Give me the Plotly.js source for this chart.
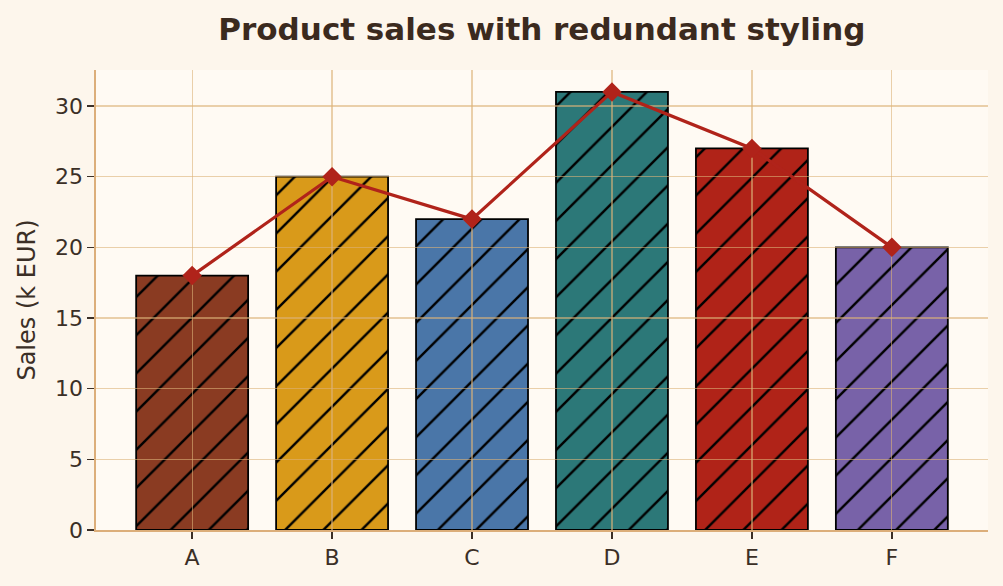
<!DOCTYPE html>
<html>
<head>
<meta charset="utf-8">
<script src="https://cdn.plot.ly/plotly-3.0.1.min.js"></script>
<style>html,body{margin:0;padding:0;background:#fdf6ec;}#chart{width:1003px;height:586px;}</style>
</head>
<body>
<div id="chart"></div>
<script>
const categories = ["A", "B", "C", "D", "E", "F"];
const sales = [18, 25, 22, 31, 27, 20];
const barColors = ["#8a3b22", "#d99a1a", "#4a76a8", "#2c7878", "#b02318", "#7862a8"];
const yTicks = [0, 5, 10, 15, 20, 25, 30];

const font = "DejaVu Sans, sans-serif";
const textColor = "#3b2f26";
const gridColor = "rgba(220,178,120,0.6)";
const xRange = [-0.687, 5.687];
const yRange = [0, 32.55];

const bars = {
  type: "bar",
  x: categories,
  y: sales,
  width: 0.8,
  xaxis: "x",
  yaxis: "y",
  marker: {
    color: "#000000",
    line: {color: "#000000", width: 1.8},
    pattern: {shape: "/", fillmode: "replace", bgcolor: barColors, fgcolor: "#000000", fgopacity: 1, size: 27, solidity: 0.09}
  },
  hoverinfo: "x+y",
  showlegend: false
};

// line lives on a second, coincident subplot so its grid is drawn over the bars but under the line
const line = {
  type: "scatter",
  mode: "lines+markers",
  x: categories,
  y: sales,
  xaxis: "x2",
  yaxis: "y2",
  line: {color: "#b0231a", width: 3.2},
  marker: {symbol: "diamond", size: 15, color: "#b0231a"},
  showlegend: false
};

const layout = {
  width: 1003,
  height: 586,
  paper_bgcolor: "#fdf6ec",
  plot_bgcolor: "rgba(0,0,0,0)",
  margin: {l: 96, r: 15, t: 70, b: 56},
  font: {family: font, color: textColor, size: 23},
  title: {
    text: "<b>Product sales with redundant styling</b>",
    font: {family: font, size: 31, color: "#3b2a1e"},
    x: 0.5403, xanchor: "center", y: 0.951, yanchor: "middle"
  },
  shapes: [
    {type: "rect", layer: "below", xref: "paper", yref: "paper", x0: 0, x1: 1, y0: 0, y1: 1,
     fillcolor: "#fffaf3", line: {width: 0}}
  ],
  xaxis: {
    type: "category",
    categoryarray: categories,
    range: xRange,
    domain: [0, 1],
    anchor: "y",
    showgrid: false,
    showline: true,
    linecolor: "#dcae7a",
    linewidth: 1.6,
    ticks: "outside",
    ticklen: 7,
    tickwidth: 1.5,
    tickcolor: textColor,
    tickfont: {family: font, size: 22, color: textColor},
    zeroline: false,
    fixedrange: true
  },
  yaxis: {
    range: yRange,
    domain: [0, 1],
    anchor: "x",
    tickvals: yTicks,
    ticktext: yTicks.map(String),
    showgrid: false,
    showline: true,
    linecolor: "#dcae7a",
    linewidth: 1.6,
    ticks: "outside",
    ticklen: 7,
    tickwidth: 1.5,
    tickcolor: textColor,
    tickfont: {family: font, size: 22, color: textColor},
    title: {text: "Sales (k EUR)", font: {family: font, size: 24, color: textColor}, standoff: 12},
    zeroline: false,
    fixedrange: true
  },
  xaxis2: {
    type: "category",
    categoryarray: categories,
    range: xRange,
    domain: [0, 1],
    anchor: "y2",
    showgrid: true,
    gridcolor: gridColor,
    gridwidth: 1.2,
    showline: false,
    ticks: "",
    showticklabels: false,
    zeroline: false,
    fixedrange: true
  },
  yaxis2: {
    range: yRange,
    domain: [0, 1],
    anchor: "x2",
    tickvals: yTicks.filter(v => v > 0),
    showgrid: true,
    gridcolor: gridColor,
    gridwidth: 1.2,
    showline: false,
    ticks: "",
    showticklabels: false,
    zeroline: false,
    fixedrange: true
  },
  bargap: 0.2
};

Plotly.newPlot("chart", [bars, line], layout, {displayModeBar: false, staticPlot: true});
</script>
</body>
</html>
